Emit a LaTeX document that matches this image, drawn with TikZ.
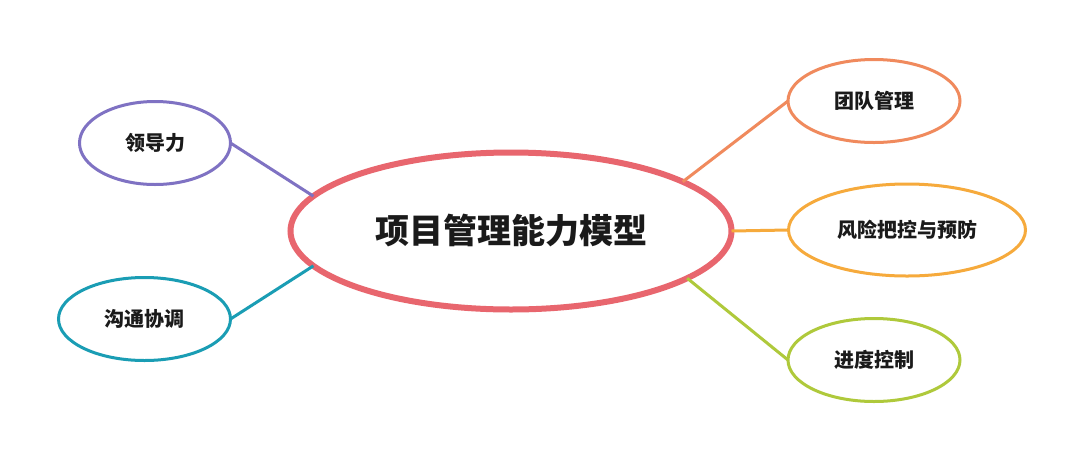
\documentclass[tikz,border=0pt]{standalone}
\usepackage{fontspec}
\newfontfamily\cjk{Noto Sans CJK SC}
\usetikzlibrary{shapes.geometric}
\definecolor{cmain}{HTML}{E8666E}
\definecolor{clead}{HTML}{7F72C3}
\definecolor{ccomm}{HTML}{1A9DB4}
\definecolor{cteam}{HTML}{F08A5D}
\definecolor{crisk}{HTML}{F6AA3C}
\definecolor{cprog}{HTML}{AFC93B}
\definecolor{ctext}{HTML}{1A1A1A}
\tikzset{
  hub/.style={ellipse, draw=cmain, line width=6pt, outer sep=0pt, inner sep=0pt,
    minimum width=441pt, minimum height=157pt, text=ctext,
    font=\cjk\bfseries\fontsize{34}{40}\selectfont},
  leaf/.style={ellipse, line width=3pt, outer sep=0pt, inner sep=0pt,
    minimum width=151pt, minimum height=83pt, text=ctext,
    font=\cjk\bfseries\fontsize{20}{24}\selectfont},
  link/.style={line width=3pt}
}
\begin{document}
\begin{tikzpicture}[x=1pt,y=-1pt]
\fill[white] (0,0) rectangle (1080,459);
\useasboundingbox (0,0) rectangle (1080,459);
\node[hub] (hub) at (511,231) {项目管理能力模型};
\node[leaf, draw=clead] (lead) at (155,143) {领导力};
\node[leaf, draw=ccomm, minimum width=172pt] (comm) at (144.5,319) {沟通协调};
\node[leaf, draw=cteam, minimum width=172pt] (team) at (874,101) {团队管理};
\node[leaf, draw=crisk, minimum width=237pt, minimum height=92pt] (risk) at (907,230) {风险把控与预防};
\node[leaf, draw=cprog, minimum width=172pt] (prog) at (874,360) {进度控制};
\draw[link, clead] (lead.east) -- (hub.170);
\draw[link, ccomm] (comm.east) -- (hub.190);
\draw[link, cteam] (team.west) -- (hub.16);
\draw[link, crisk] (risk.west) -- (hub.east);
\draw[link, cprog] (prog.west) -- (hub.-15);
\end{tikzpicture}
\end{document}
